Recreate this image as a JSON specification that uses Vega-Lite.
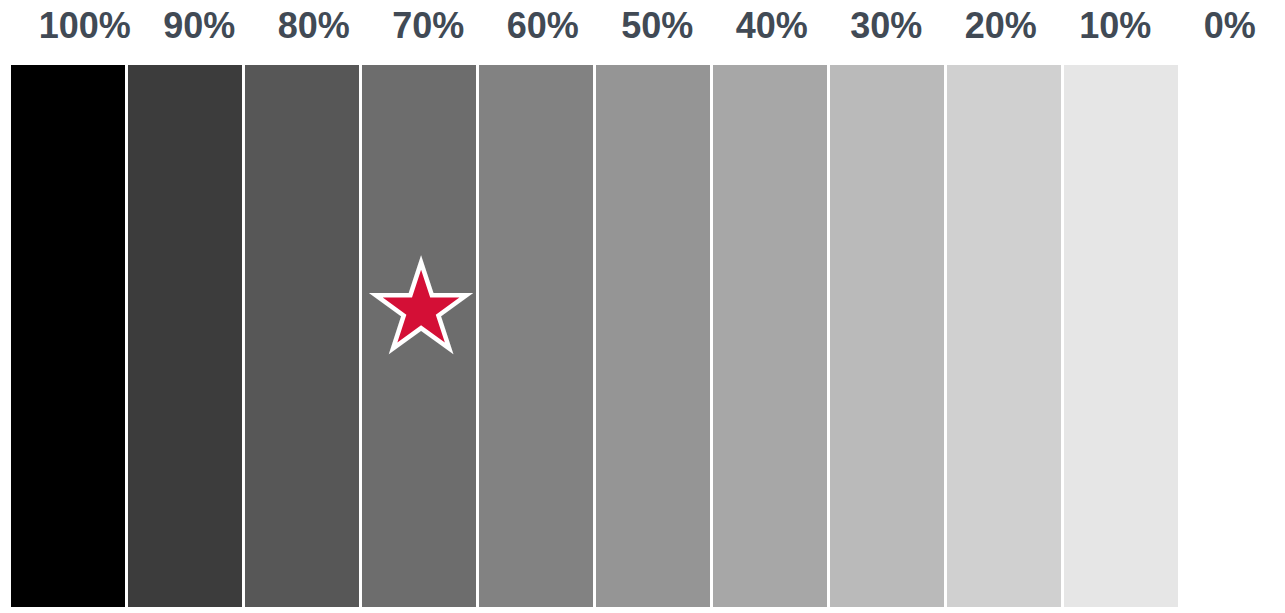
{
  "$schema": "https://vega.github.io/schema/vega-lite/v6.json",
  "autosize": {"type": "none"},
  "width": 1287,
  "height": 542,
  "padding": {"left": 9.5, "top": 65, "right": 0, "bottom": 6},
  "background": "white",
  "config": {"view": {"stroke": null}},
  "datasets": {
    "levels": [
      {"level": "100%"}, {"level": "90%"}, {"level": "80%"}, {"level": "70%"},
      {"level": "60%"}, {"level": "50%"}, {"level": "40%"}, {"level": "30%"},
      {"level": "20%"}, {"level": "10%"}, {"level": "0%"}
    ],
    "marker": [{"level": "70%", "pos": 54.5}]
  },
  "resolve": {"scale": {"x": "independent"}},
  "layer": [
    {
      "layer": [
        {
          "data": {"name": "levels"},
          "mark": {"type": "rect"},
          "encoding": {
            "x": {"field": "level", "type": "nominal", "sort": null,
                  "scale": {"paddingInner": 0.0256, "paddingOuter": 0.0128}, "axis": null},
            "y": {"datum": 0, "type": "quantitative", "scale": {"domain": [0, 100]}, "axis": null},
            "y2": {"datum": 100},
            "color": {"field": "level", "type": "nominal", "sort": null, "legend": null,
              "scale": {
                "domain": ["100%", "90%", "80%", "70%", "60%", "50%", "40%", "30%", "20%", "10%", "0%"],
                "range": ["#000000", "#3c3c3c", "#575757", "#6d6d6d", "#828282", "#959595", "#a7a7a7", "#bababa", "#d0d0d0", "#e6e6e6", "#ffffff"]
              }}
          }
        },
        {
          "data": {"name": "marker"},
          "mark": {"type": "text", "font": "DejaVu Sans", "fontSize": 100, "align": "center", "baseline": "middle",
                   "dx": 2, "color": "#ffffff", "stroke": "#ffffff", "strokeWidth": 9, "strokeJoin": "miter", "strokeMiterLimit": 10},
          "encoding": {
            "x": {"field": "level", "type": "nominal", "sort": null},
            "y": {"field": "pos", "type": "quantitative"},
            "text": {"value": "★"}
          }
        },
        {
          "data": {"name": "marker"},
          "mark": {"type": "text", "font": "DejaVu Sans", "fontSize": 100, "align": "center", "baseline": "middle",
                   "dx": 2, "color": "#d40f36"},
          "encoding": {
            "x": {"field": "level", "type": "nominal", "sort": null},
            "y": {"field": "pos", "type": "quantitative"},
            "text": {"value": "★"}
          }
        }
      ]
    },
    {
      "data": {"name": "levels"},
      "mark": {"type": "text", "font": "Liberation Sans", "fontWeight": "bold", "fontSize": 36,
               "color": "#414a55", "baseline": "alphabetic", "align": "center", "clip": false},
      "encoding": {
        "x": {"field": "level", "type": "nominal", "sort": null,
              "scale": {"type": "point", "padding": 0.62, "align": 0.53}, "axis": null},
        "y": {"datum": 105, "type": "quantitative"},
        "text": {"field": "level"}
      }
    }
  ]
}
